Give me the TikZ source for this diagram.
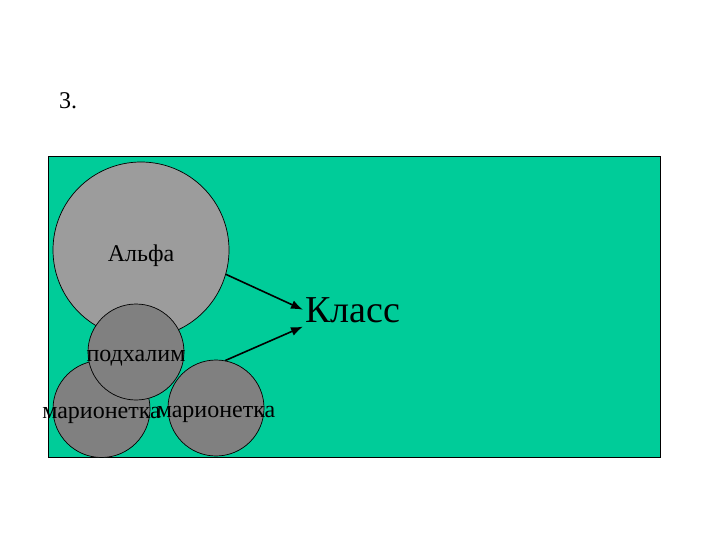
\documentclass[tikz,border=0pt]{standalone}
\usepackage{fontspec}
\setmainfont{Liberation Serif}
\usetikzlibrary{arrows.meta}
\definecolor{fieldgreen}{HTML}{00CC99}
\definecolor{lightgrey}{HTML}{9C9C9C}
\definecolor{darkgrey}{HTML}{808080}
\tikzset{
  ball/.style={circle, draw=black, line width=0.7pt, inner sep=0pt},
  tag/.style={font=\fontsize{24}{26}\selectfont, inner sep=0pt, yshift=-6pt},
  link/.style={-{Latex[length=12pt,width=9pt]}, line width=1.6pt}
}
\begin{document}
\begin{tikzpicture}[x=1pt,y=-1pt]
\useasboundingbox [fill=white] (0,0) rectangle (720,540);
\node (num) at (68,101) {\fontsize{24}{26}\selectfont 3.};
\draw [fill=fieldgreen, line width=0.7pt] (48,156) rectangle (660,457);
% the group
\node (alpha) [ball, fill=lightgrey, minimum size=176pt, label={[tag]center:Альфа}] at (141,250) {};
\node (pup1) [ball, fill=darkgrey, minimum size=97pt, label={[tag]center:марионетка}] at (101.5,409) {};
\node (pup2) [ball, fill=darkgrey, minimum size=96pt, label={[tag]center:марионетка}] at (216,408) {};
\node (toady) [ball, fill=darkgrey, minimum size=96pt, label={[tag]center:подхалим}] at (136,352) {};
\node (klass) [anchor=base west, inner sep=0pt, font=\fontsize{38}{40}\selectfont] at (305,322) {Класс};
\coordinate (inA) at ([xshift=-2pt]klass.west);
\coordinate (inB) at ([xshift=-2pt,yshift=-4pt]klass.south west);
\draw [link] (alpha.-16) -- (inA);
\draw [link] (pup2.79) -- (inB);
\end{tikzpicture}
\end{document}
